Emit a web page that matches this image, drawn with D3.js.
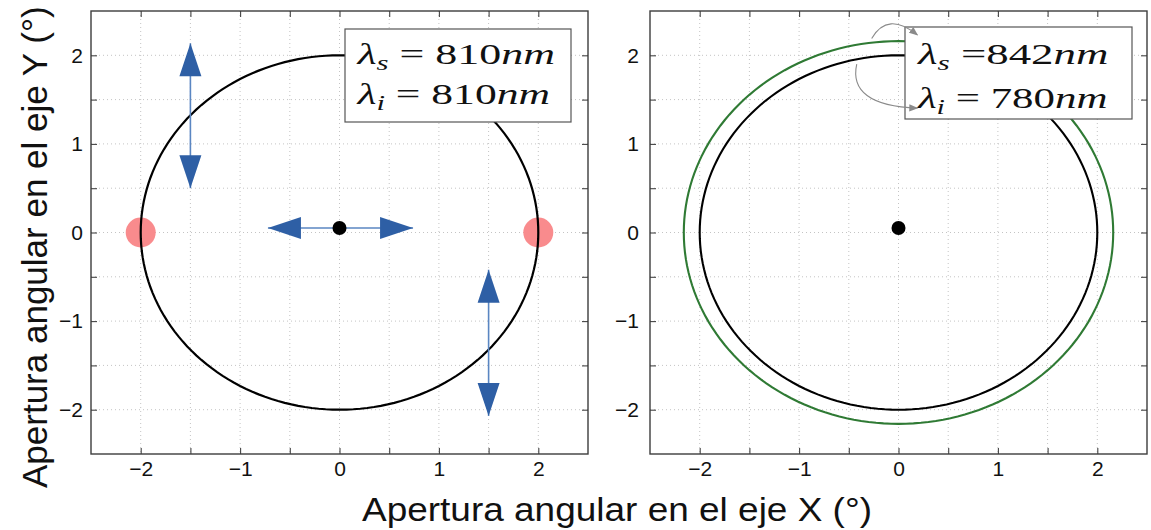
<!DOCTYPE html>
<html>
<head>
<meta charset="utf-8">
<script src="https://cdn.jsdelivr.net/npm/d3@7"></script>
<style>
  html, body { margin: 0; padding: 0; background: #fff; }
  svg { display: block; }
</style>
</head>
<body>
<svg id="chart" width="1151" height="530"></svg>
<script>
// ---------------- data ----------------
const axisDomain = [-2.5, 2.5];
const tickValues = [-2, -1.5, -1, -0.5, 0, 0.5, 1, 1.5, 2];
const labeledTicks = [-2, -1, 0, 1, 2];
const gridValues = [-2, -1.5, -1, -0.5, 0, 0.5, 1, 1.5, 2];

// left panel: degenerate case
const leftRingRadii = [2];
const leftRingColors = ["#000000"];
const leftCenter = [0, 0.05];
const leftSpotsX = [-2, 2];
const leftSpotsY = [0, 0];
const arrowStartX = [-1.5, -0.72, 1.5];
const arrowStartY = [2.135, 0.05, -0.42];
const arrowEndX = [-1.5, 0.74, 1.5];
const arrowEndY = [0.5, 0.05, -2.07];
const leftLegend = [["s", " = 810"], ["i", " = 810"]];

// right panel: non-degenerate case
const rightRingRadii = [2.16, 2.0];
const rightRingColors = ["#2f7a34", "#000000"];
const rightCenter = [0, 0.05];
const rightLegend = [["s", " =842"], ["i", " = 780"]];
// curved pointer arrows (data coords): start, control(s), end
const pointer1 = [[-0.27, 2.19], [-0.11, 2.50], [0.19, 2.23]];
const pointer2 = [[-0.42, 1.90], [-0.48, 1.60], [-0.286, 1.42], [0.19, 1.405]];

const xLabel = "Apertura angular en el eje X (°)";
const yLabel = "Apertura angular en el eje Y (°)";

// ---------------- layout ----------------
const svg = d3.select("#chart");
const plotTop = 11, plotBottom = 454;
const panels = [
  { x0: 91, x1: 588 },
  { x0: 650, x1: 1147 }
];

const defs = svg.append("defs");
defs.append("marker")
  .attr("id", "grayhead")
  .attr("viewBox", "0 0 10 10")
  .attr("refX", 9).attr("refY", 5)
  .attr("markerWidth", 9).attr("markerHeight", 9)
  .attr("markerUnits", "userSpaceOnUse")
  .attr("orient", "auto")
  .append("path")
  .attr("d", "M0,1 L10,5 L0,9 Z")
  .attr("fill", "#8a8a8a");

function makePanel(p) {
  const x = d3.scaleLinear().domain(axisDomain).range([p.x0, p.x1]);
  const y = d3.scaleLinear().domain(axisDomain).range([plotBottom, plotTop]);
  const g = svg.append("g");
  g.append("g").selectAll("line").data(gridValues).join("line")
    .attr("x1", d => x(d)).attr("x2", d => x(d))
    .attr("y1", plotTop).attr("y2", plotBottom)
    .attr("stroke", "#c4c4c4").attr("stroke-width", 1)
    .attr("stroke-dasharray", "1,3");
  g.append("g").selectAll("line").data(gridValues).join("line")
    .attr("y1", d => y(d)).attr("y2", d => y(d))
    .attr("x1", p.x0).attr("x2", p.x1)
    .attr("stroke", "#c4c4c4").attr("stroke-width", 1)
    .attr("stroke-dasharray", "1,3");
  return { x, y, g };
}

function ringPath(x, y, r) {
  const pts = d3.range(0, 360, 2).map(a => [r * Math.cos(a * Math.PI / 180), r * Math.sin(a * Math.PI / 180)]);
  return d3.line().x(d => x(d[0])).y(d => y(d[1])).curve(d3.curveLinearClosed)(pts);
}

function drawAxes(P, p) {
  const { x, y, g } = P;
  const fmt = d => labeledTicks.includes(d) ? d3.format("d")(d) : "";
  const font = "'Liberation Sans', Arial, sans-serif";
  const ax = [
    g.append("g").attr("transform", `translate(0,${plotBottom})`)
      .call(d3.axisBottom(x).tickValues(tickValues).tickFormat(fmt).tickSizeInner(-6).tickSizeOuter(0).tickPadding(7)),
    g.append("g").attr("transform", `translate(${p.x0},0)`)
      .call(d3.axisLeft(y).tickValues(tickValues).tickFormat(fmt).tickSizeInner(-6).tickSizeOuter(0).tickPadding(p.x0 > 300 ? 11 : 8)),
    g.append("g").attr("transform", `translate(0,${plotTop})`)
      .call(d3.axisTop(x).tickValues(tickValues).tickFormat("").tickSizeInner(-6).tickSizeOuter(0)),
    g.append("g").attr("transform", `translate(${p.x1},0)`)
      .call(d3.axisRight(y).tickValues(tickValues).tickFormat("").tickSizeInner(-6).tickSizeOuter(0))
  ];
  ax.forEach(a => {
    a.select(".domain").remove();
    a.selectAll(".tick line").attr("stroke", "#444").attr("stroke-width", 1.1);
    a.selectAll(".tick text")
      .style("font-family", font).style("font-size", "21px").attr("fill", "#111");
  });
  g.append("rect")
    .attr("x", p.x0).attr("y", plotTop)
    .attr("width", p.x1 - p.x0).attr("height", plotBottom - plotTop)
    .attr("fill", "none").attr("stroke", "#3d3d3d").attr("stroke-width", 1.4);
}

function legendBox(g, bx, by, bw, bh, lines, baselines, starts, widths) {
  g.append("rect").attr("x", bx).attr("y", by).attr("width", bw).attr("height", bh)
    .attr("fill", "#fff").attr("stroke", "#555").attr("stroke-width", 1.2);
  lines.forEach((ln, i) => {
    const t = g.append("text")
      .style("font-family", "'Liberation Serif', 'Times New Roman', serif")
      .style("font-size", "30px").attr("fill", "#111");
    t.append("tspan").style("font-style", "italic").text("λ");
    t.append("tspan").style("font-style", "italic").style("font-size", "21px").attr("dy", 6).text(ln[0]);
    t.append("tspan").attr("dy", -6).text(ln[1]);
    t.append("tspan").style("font-style", "italic").text("nm");
    const w = t.node().getBBox().width;
    t.attr("transform", `translate(${starts[i]},${baselines[i]}) scale(${widths[i] / w},1)`);
  });
}

// ---------------- left panel ----------------
const L = makePanel(panels[0]);
L.g.append("g").selectAll("circle").data(leftSpotsX).join("circle")
  .attr("cx", d => L.x(d)).attr("cy", (d, i) => L.y(leftSpotsY[i]))
  .attr("r", 15).attr("fill", "#f98b8d");
L.g.append("g").selectAll("path").data(leftRingRadii).join("path")
  .attr("d", r => ringPath(L.x, L.y, r))
  .attr("fill", "none").attr("stroke", (d, i) => leftRingColors[i]).attr("stroke-width", 2.2);

const arrowG = L.g.append("g");
arrowStartX.forEach((sx, i) => {
  const ax1 = L.x(sx), ay1 = L.y(arrowStartY[i]);
  const ax2 = L.x(arrowEndX[i]), ay2 = L.y(arrowEndY[i]);
  arrowG.append("line").attr("x1", ax1).attr("y1", ay1).attr("x2", ax2).attr("y2", ay2)
    .attr("stroke", "#5a86c2").attr("stroke-width", 1.6);
  const dx = ax2 - ax1, dy = ay2 - ay1, len = Math.hypot(dx, dy);
  const ux = dx / len, uy = dy / len, nx = -uy, ny = ux;
  const hl = 33, hw = 11;
  [[ax1, ay1, 1], [ax2, ay2, -1]].forEach(([tx, ty, s]) => {
    const bxp = tx + s * ux * hl, byp = ty + s * uy * hl;
    arrowG.append("path")
      .attr("d", `M${tx},${ty} L${bxp + nx * hw},${byp + ny * hw} L${bxp - nx * hw},${byp - ny * hw} Z`)
      .attr("fill", "#2e5fa5");
  });
});
L.g.append("circle").attr("cx", L.x(leftCenter[0])).attr("cy", L.y(leftCenter[1]))
  .attr("r", 7).attr("fill", "#000");
legendBox(L.g, 345, 29, 226, 93, leftLegend, [64, 103.5], [357.5, 357.5], [199, 194]);
drawAxes(L, panels[0]);

// ---------------- right panel ----------------
const R = makePanel(panels[1]);
R.g.append("g").selectAll("path").data(rightRingRadii).join("path")
  .attr("d", r => ringPath(R.x, R.y, r))
  .attr("fill", "none").attr("stroke", (d, i) => rightRingColors[i]).attr("stroke-width", 2.1);
R.g.append("circle").attr("cx", R.x(rightCenter[0])).attr("cy", R.y(rightCenter[1]))
  .attr("r", 7).attr("fill", "#000");
legendBox(R.g, 905, 27, 227, 92, rightLegend, [63.5, 108], [918, 918], [192, 191]);
const px = d => `${R.x(d[0])},${R.y(d[1])}`;
R.g.append("path")
  .attr("d", `M${px(pointer1[0])} Q${px(pointer1[1])} ${px(pointer1[2])}`)
  .attr("fill", "none").attr("stroke", "#8a8a8a").attr("stroke-width", 1.1)
  .attr("marker-end", "url(#grayhead)");
R.g.append("path")
  .attr("d", `M${px(pointer2[0])} C${px(pointer2[1])} ${px(pointer2[2])} ${px(pointer2[3])}`)
  .attr("fill", "none").attr("stroke", "#8a8a8a").attr("stroke-width", 1.1)
  .attr("marker-end", "url(#grayhead)");
drawAxes(R, panels[1]);

// ---------------- axis titles ----------------
svg.append("text")
  .attr("x", 362).attr("y", 521)
  .style("font-family", "'Liberation Sans', Arial, sans-serif")
  .style("font-size", "33px").attr("fill", "#111")
  .attr("textLength", 510).attr("lengthAdjust", "spacingAndGlyphs")
  .text(xLabel);
svg.append("text")
  .attr("transform", "translate(47,488) rotate(-90)")
  .style("font-family", "'Liberation Sans', Arial, sans-serif")
  .style("font-size", "35px").attr("fill", "#111")
  .text(yLabel);
</script>
</body>
</html>
